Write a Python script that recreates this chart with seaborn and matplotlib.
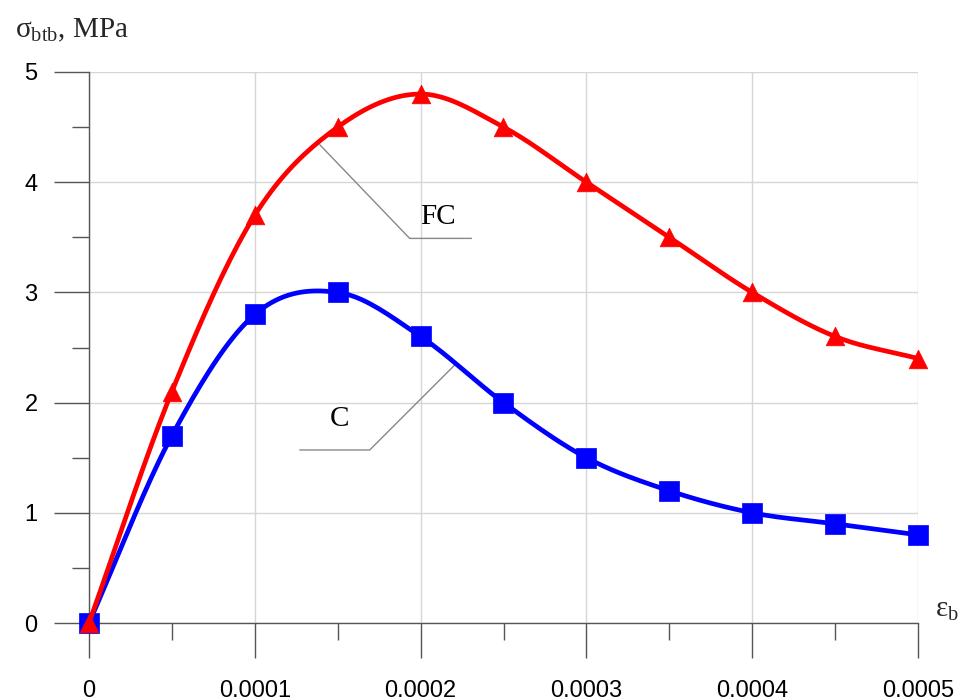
import numpy as np
import pandas as pd
import matplotlib
matplotlib.use("Agg")
import matplotlib.pyplot as plt
import seaborn as sns

# ---- data ----
strain = [0, 0.00005, 0.0001, 0.00015, 0.0002, 0.00025, 0.0003, 0.00035, 0.0004, 0.00045, 0.0005]
stress_FC = [0, 2.1, 3.7, 4.5, 4.8, 4.5, 4.0, 3.5, 3.0, 2.6, 2.4]
stress_C = [0, 1.7, 2.8, 3.0, 2.6, 2.0, 1.5, 1.2, 1.0, 0.9, 0.8]
x_ticks = [0, 0.0001, 0.0002, 0.0003, 0.0004, 0.0005]
x_ticklabels = ["0", "0.0001", "0.0002", "0.0003", "0.0004", "0.0005"]
y_ticks = [0, 1, 2, 3, 4, 5]


def smooth(xs, ys, n=20):
    """Catmull-Rom style rendering of the line through the given points."""
    xs = np.asarray(xs, float)
    ys = np.asarray(ys, float)
    px = np.concatenate([[2 * xs[0] - xs[1]], xs, [2 * xs[-1] - xs[-2]]])
    py = np.concatenate([[2 * ys[0] - ys[1]], ys, [2 * ys[-1] - ys[-2]]])
    ox, oy = [], []
    t = np.linspace(0, 1, n, endpoint=False)
    for i in range(1, len(px) - 2):
        for P, out in ((px, ox), (py, oy)):
            p0, p1, p2, p3 = P[i - 1], P[i], P[i + 1], P[i + 2]
            out.extend(0.5 * ((2 * p1) + (-p0 + p2) * t
                              + (2 * p0 - 5 * p1 + 4 * p2 - p3) * t ** 2
                              + (-p0 + 3 * p1 - 3 * p2 + p3) * t ** 3))
    ox.append(xs[-1]); oy.append(ys[-1])
    return np.array(ox), np.array(oy)


sns.set_theme(style="white")
plt.rcParams["font.family"] = ["Liberation Sans", "DejaVu Sans"]
plt.rcParams["mathtext.fontset"] = "custom"
plt.rcParams["mathtext.rm"] = "Liberation Serif"
plt.rcParams["mathtext.it"] = "Liberation Serif:italic"

fig = plt.figure(figsize=(9.7, 7), dpi=100)
ax = fig.add_axes([89 / 970, 1 - 623 / 700, (918 - 89) / 970, (623 - 72) / 700])

ax.set_xlim(0, 0.0005)
ax.set_ylim(0, 5)

# grid
ax.set_xticks(x_ticks)
ax.set_xticklabels(x_ticklabels)
ax.set_yticks(y_ticks)
ax.set_xticks(np.arange(0.00005, 0.0005, 0.0001), minor=True)
ax.set_yticks(np.arange(0.5, 5, 1.0), minor=True)
ax.grid(True, which="major", color="#d6d6d6", lw=1.0, zorder=0)
ax.set_axisbelow(True)

for s in ["top", "right"]:
    ax.spines[s].set_visible(False)
for s in ["left", "bottom"]:
    ax.spines[s].set_color("#555555")
    ax.spines[s].set_linewidth(1.0)

ax.tick_params(axis="both", which="both", bottom=True, left=True, top=False, right=False)
ax.tick_params(axis="both", which="major", direction="out", length=25,
               width=1.0, color="#555555", labelsize=17, labelcolor="black")
ax.tick_params(axis="both", which="minor", direction="out", length=12,
               width=1.0, color="#555555")
ax.tick_params(axis="y", which="major", pad=12)
ax.tick_params(axis="x", which="major", pad=16)

# curves
cx, cy = smooth(strain, stress_C)
fx, fy = smooth(strain, stress_FC)
sns.lineplot(x=cx, y=cy, ax=ax, color="#0000ff", lw=3.4, sort=False, zorder=3)
sns.scatterplot(x=strain, y=stress_C, ax=ax, color="#0000ff", marker="s",
                s=190, edgecolor="#0000ff", linewidth=0.5, zorder=4, clip_on=False)
sns.lineplot(x=fx, y=fy, ax=ax, color="#ff0000", lw=3.4, sort=False, zorder=5)
sns.scatterplot(x=strain, y=stress_FC, ax=ax, color="#ff0000", marker="^",
                s=180, edgecolor="#ff0000", linewidth=0.5, zorder=6, clip_on=False)

# leader lines + labels
ax.plot([0.0001392, 0.0001934, 0.0002307], [4.34, 3.49, 3.49],
        color="#888888", lw=1.0, zorder=2)
ax.text(0.0001995, 3.68, "FC", family="Liberation Serif", fontsize=21,
        ha="left", va="center", color="black")
ax.plot([0.0002205, 0.0001693, 0.0001271], [2.34, 1.57, 1.57],
        color="#888888", lw=1.0, zorder=2)
ax.text(0.0001511, 1.85, "C", family="Liberation Serif", fontsize=21,
        ha="center", va="center", color="black")

# axis titles
fig.text(15 / 970, 1 - 30 / 700, r"$\mathrm{σ_{btb}}$, MPa", fontsize=21,
         family="Liberation Serif", ha="left", va="center")
ax.text(1.02, 0.0, r"$\mathrm{ε_b}$", transform=ax.transAxes, fontsize=21,
        ha="left", va="bottom")

ax.set_xlabel("")
ax.set_ylabel("")
fig.savefig("out.png", dpi=100, facecolor="white")
